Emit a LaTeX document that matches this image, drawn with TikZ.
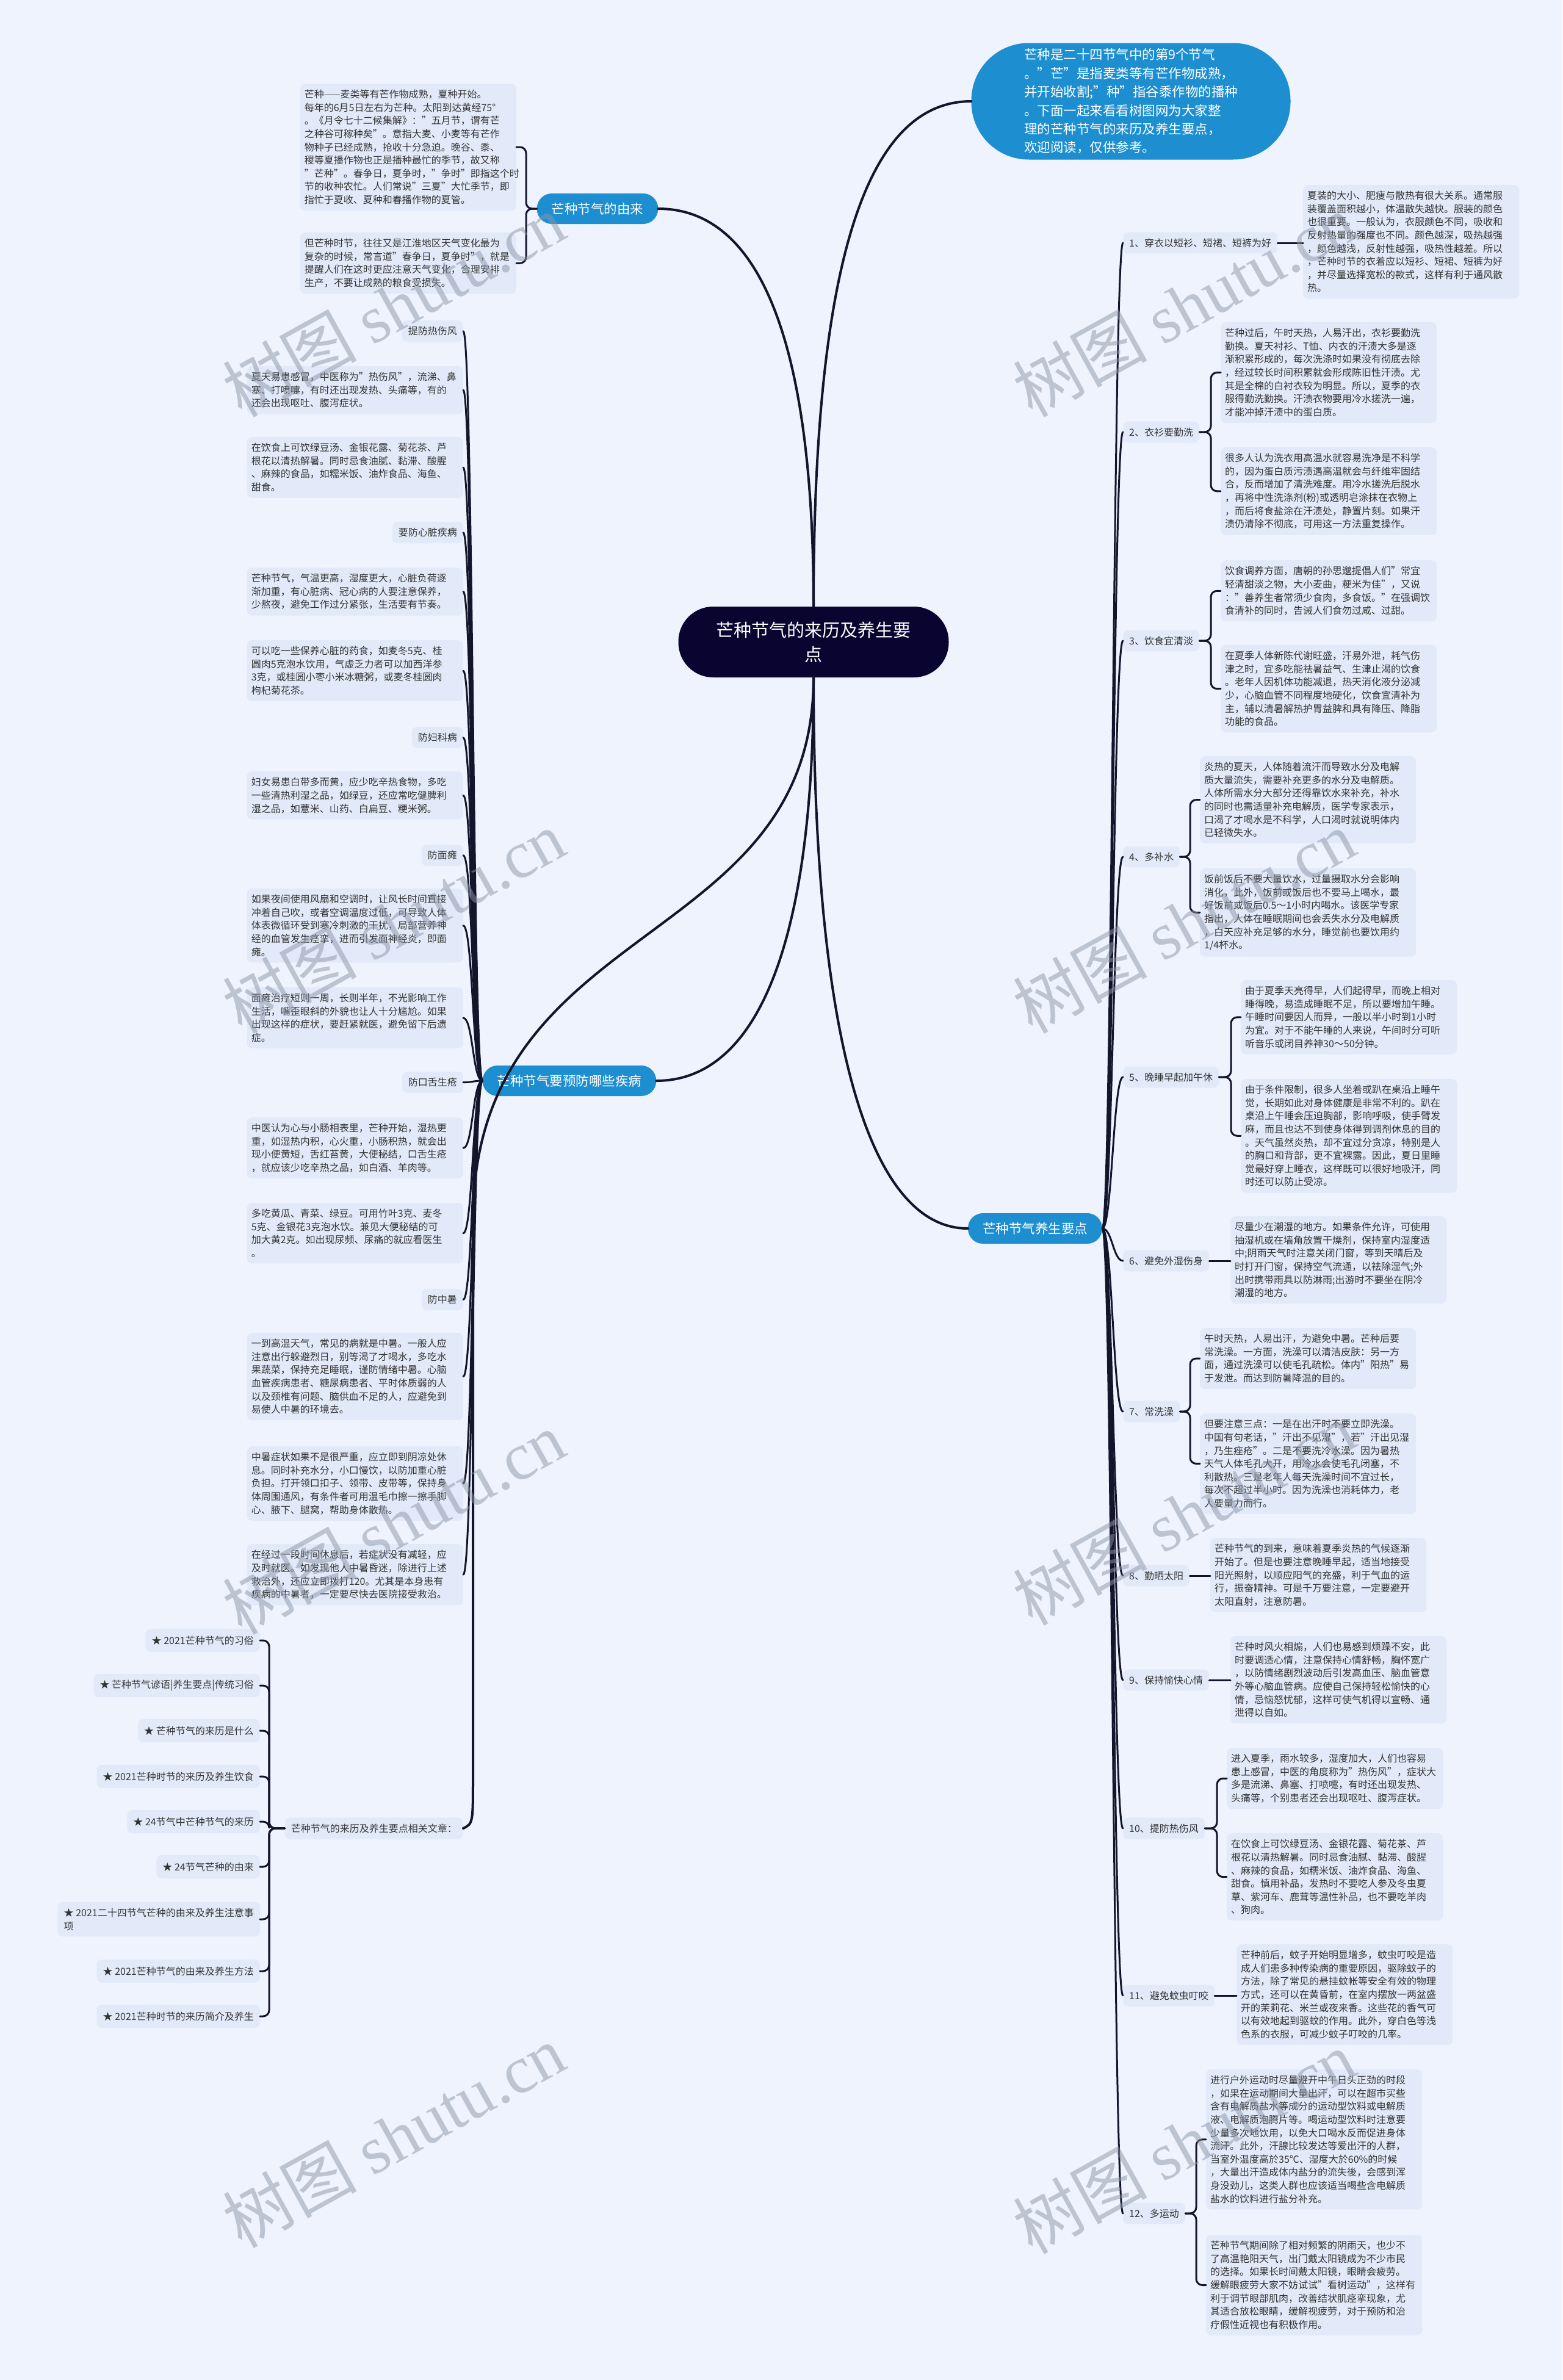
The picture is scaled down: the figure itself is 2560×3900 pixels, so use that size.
\documentclass[tikz,border=0pt]{standalone}
\usepackage{fontspec}
\setmainfont{Noto Sans CJK SC}
\newfontfamily\wmfont{Liberation Serif}
\usetikzlibrary{calc}

\definecolor{sfondoC}{HTML}{EEF3FD}
\definecolor{fogliaC}{HTML}{E2EAF9}
\definecolor{ramoC}{HTML}{1D8FD1}
\definecolor{centroC}{HTML}{0A0530}
\definecolor{testoC}{HTML}{333333}
\definecolor{lineaC}{HTML}{14142B}
\definecolor{filigC}{HTML}{8C96A8}

\begin{document}
\begin{tikzpicture}[x=1pt, y=-1pt, line cap=round, line join=round,
	font=\fontsize{16}{21.6}\selectfont,
	foglia/.style = {fill=fogliaC, text=testoC, rounded corners=8pt,
		inner xsep=7pt, inner ysep=10pt, text width=340pt, align=left},
	voce/.style   = {fill=fogliaC, text=testoC, rounded corners=8pt,
		inner xsep=10pt, inner ysep=10pt},
	ramo/.style   = {fill=ramoC, text=white, font=\fontsize{21.5}{26}\selectfont,
		inner xsep=24pt, inner ysep=0pt, minimum height=50pt, rounded corners=24.5pt},
	tronco/.style = {draw=lineaC, line width=4pt},
	filo/.style   = {draw=lineaC, line width=3pt, rounded corners=10pt},
	filig/.style  = {text=filigC, text opacity=0.5, rotate=29,
		font=\fontsize{110}{110}\selectfont},
	]
	
	%% ── Fondo ────────────────────────────────────────────────────────────────
	\useasboundingbox(0,0)rectangle(2560,3900);
	\fill[sfondoC](0,0)rectangle(2560,3900);
	
	%% ── Colonne ──────────────────────────────────────────────────────────────
	\def\xO{846}    % bordo destro foglie "origine"
	\def\xM{759}    % bordo destro foglie "malattie"
	\def\xR{1840}   % bordo sinistro voci "salute"
	\def\xA{426}    % bordo destro articoli
	
	%% ── Nodo centrale e introduzione ─────────────────────────────────────────
	\node[fill=centroC, text=white, font=\fontsize{29}{40}\selectfont, align=center,
		minimum width=443pt, minimum height=116pt, rounded corners=57pt]
		(centro)at(1333,1052){芒种节气的来历及养生要\\点};
	\node[fill=ramoC, text=white, font=\fontsize{21.5}{30.4}\selectfont, align=left,
		minimum width=523pt, minimum height=191pt, rounded corners=94pt]
		(intro)at(1853,166){芒种是二十四节气中的第9个节气\\
		。"芒"是指麦类等有芒作物成熟，\\
		并开始收割;"种"指谷黍作物的播种\\
		。下面一起来看看树图网为大家整\\
		理的芒种节气的来历及养生要点，\\
		欢迎阅读，仅供参考。};
	
	%% ── Rami principali ──────────────────────────────────────────────────────
	\node[ramo](origine)at(979,342){芒种节气的由来};
	\node[ramo](malattie)at(933,1771){芒种节气要预防哪些疾病};
	\node[ramo](salute)at(1696,2013){芒种节气养生要点};
	\node[voce,anchor=east](articoli)at(759,2996){芒种节气的来历及养生要点相关文章：};
	
	%% ── Origine ──────────────────────────────────────────────────────────────
	\node[foglia,anchor=north east](o1)at(\xO,137){芒种——麦类等有芒作物成熟，夏种开始。\\
		每年的6月5日左右为芒种。太阳到达黄经75°\\
		。《月令七十二候集解》："五月节，谓有芒\\
		之种谷可稼种矣"。意指大麦、小麦等有芒作\\
		物种子已经成熟，抢收十分急迫。晚谷、黍、\\
		稷等夏播作物也正是播种最忙的季节，故又称\\
		"芒种"。春争日，夏争时，"争时"即指这个时\\
		节的收种农忙。人们常说"三夏"大忙季节，即\\
		指忙于夏收、夏种和春播作物的夏管。};
	\node[foglia,anchor=north east](o2)at(\xO,381){但芒种时节，往往又是江淮地区天气变化最为\\
		复杂的时候，常言道"春争日，夏争时"，就是\\
		提醒人们在这时更应注意天气变化，合理安排\\
		生产，不要让成熟的粮食受损失。};
	
	%% ── Malattie ─────────────────────────────────────────────────────────────
	\node[voce,anchor=north east](m1)at(\xM,525){提防热伤风};
	\node[foglia,anchor=north east](m2)at(\xM,600){夏天易患感冒，中医称为"热伤风"，流涕、鼻\\
		塞、打喷嚏，有时还出现发热、头痛等，有的\\
		还会出现呕吐、腹泻症状。};
	\node[foglia,anchor=north east](m3)at(\xM,716){在饮食上可饮绿豆汤、金银花露、菊花茶、芦\\
		根花以清热解暑。同时忌食油腻、黏滞、酸腥\\
		、麻辣的食品，如糯米饭、油炸食品、海鱼、\\
		甜食。};
	\node[voce,anchor=north east](m4)at(\xM,855){要防心脏疾病};
	\node[foglia,anchor=north east](m5)at(\xM,930){芒种节气，气温更高，湿度更大，心脏负荷逐\\
		渐加重，有心脏病、冠心病的人要注意保养，\\
		少熬夜，避免工作过分紧张，生活要有节奏。};
	\node[foglia,anchor=north east](m6)at(\xM,1049){可以吃一些保养心脏的药食，如麦冬5克、桂\\
		圆肉5克泡水饮用，气虚乏力者可以加西洋参\\
		3克，或桂圆小枣小米冰糖粥，或麦冬桂圆肉\\
		枸杞菊花茶。};
	\node[voce,anchor=north east](m7)at(\xM,1191){防妇科病};
	\node[foglia,anchor=north east](m8)at(\xM,1264){妇女易患白带多而黄，应少吃辛热食物，多吃\\
		一些清热利湿之品，如绿豆，还应常吃健脾利\\
		湿之品，如薏米、山药、白扁豆、粳米粥。};
	\node[voce,anchor=north east](m9)at(\xM,1384){防面瘫};
	\node[foglia,anchor=north east](m10)at(\xM,1456){如果夜间使用风扇和空调时，让风长时间直接\\
		冲着自己吹，或者空调温度过低，可导致人体\\
		体表微循环受到寒冷刺激的干扰，局部营养神\\
		经的血管发生痉挛，进而引发面神经炎，即面\\
		瘫。};
	\node[foglia,anchor=north east](m11)at(\xM,1618){面瘫治疗短则一周，长则半年，不光影响工作\\
		生活，嘴歪眼斜的外貌也让人十分尴尬。如果\\
		出现这样的症状，要赶紧就医，避免留下后遗\\
		症。};
	\node[voce,anchor=north east](m12)at(\xM,1756){防口舌生疮};
	\node[foglia,anchor=north east](m13)at(\xM,1831){中医认为心与小肠相表里，芒种开始，湿热更\\
		重，如湿热内积，心火重，小肠积热，就会出\\
		现小便黄短，舌红苔黄，大便秘结，口舌生疮\\
		，就应该少吃辛热之品，如白酒、羊肉等。};
	\node[foglia,anchor=north east](m14)at(\xM,1971){多吃黄瓜、青菜、绿豆。可用竹叶3克、麦冬\\
		5克、金银花3克泡水饮。兼见大便秘结的可\\
		加大黄2克。如出现尿频、尿痛的就应看医生\\
		。};
	\node[voce,anchor=north east](m15)at(\xM,2112){防中暑};
	\node[foglia,anchor=north east](m16)at(\xM,2184){一到高温天气，常见的病就是中暑。一般人应\\
		注意出行躲避烈日，别等渴了才喝水，多吃水\\
		果蔬菜，保持充足睡眠，谨防情绪中暑。心脑\\
		血管疾病患者、糖尿病患者、平时体质弱的人\\
		以及颈椎有问题、脑供血不足的人，应避免到\\
		易使人中暑的环境去。};
	\node[foglia,anchor=north east](m17)at(\xM,2370){中暑症状如果不是很严重，应立即到阴凉处休\\
		息。同时补充水分，小口慢饮，以防加重心脏\\
		负担。打开领口扣子、领带、皮带等，保持身\\
		体周围通风，有条件者可用温毛巾擦一擦手脚\\
		心、腋下、腿窝，帮助身体散热。};
	\node[foglia,anchor=north east](m18)at(\xM,2530){在经过一段时间休息后，若症状没有减轻，应\\
		及时就医。如发现他人中暑昏迷，除进行上述\\
		救治外，还应立即拨打120。尤其是本身患有\\
		疾病的中暑者，一定要尽快去医院接受救治。};
	
	%% ── Articoli correlati ───────────────────────────────────────────────────
	\node[voce,anchor=east,minimum height=38pt](a1)at(\xA,2688){★ 2021芒种节气的习俗};
	\node[voce,anchor=east,minimum height=38pt](a2)at(\xA,2762){★ 芒种节气谚语|养生要点|传统习俗};
	\node[voce,anchor=east,minimum height=38pt](a3)at(\xA,2836){★ 芒种节气的来历是什么};
	\node[voce,anchor=east,minimum height=38pt](a4)at(\xA,2911){★ 2021芒种时节的来历及养生饮食};
	\node[voce,anchor=east,minimum height=38pt](a5)at(\xA,2985){★ 24节气中芒种节气的来历};
	\node[voce,anchor=east,minimum height=38pt](a6)at(\xA,3059){★ 24节气芒种的由来};
	\node[voce,anchor=east,align=left](a7)at(\xA,3145){★ 2021二十四节气芒种的由来及养生注意事\\项};
	\node[voce,anchor=east,minimum height=38pt](a8)at(\xA,3230){★ 2021芒种节气的由来及养生方法};
	\node[voce,anchor=east,minimum height=38pt](a9)at(\xA,3304){★ 2021芒种时节的来历简介及养生};
	
	%% ── Salute: voci ─────────────────────────────────────────────────────────
	\node[voce,anchor=west](r1)at(\xR,398){1、穿衣以短衫、短裙、短裤为好};
	\node[voce,anchor=west](r2)at(\xR,708){2、衣衫要勤洗};
	\node[voce,anchor=west](r3)at(\xR,1050){3、饮食宜清淡};
	\node[voce,anchor=west](r4)at(\xR,1404){4、多补水};
	\node[voce,anchor=west](r5)at(\xR,1765){5、晚睡早起加午休};
	\node[voce,anchor=west](r6)at(\xR,2066){6、避免外湿伤身};
	\node[voce,anchor=west](r7)at(\xR,2313){7、常洗澡};
	\node[voce,anchor=west](r8)at(\xR,2582){8、勤晒太阳};
	\node[voce,anchor=west](r9)at(\xR,2753){9、保持愉快心情};
	\node[voce,anchor=west](r10)at(\xR,2996){10、提防热伤风};
	\node[voce,anchor=west](r11)at(\xR,3270){11、避免蚊虫叮咬};
	\node[voce,anchor=west](r12)at(\xR,3627){12、多运动};
	
	%% ── Salute: foglie ───────────────────────────────────────────────────────
	\node[foglia,anchor=north west](fA1)at(2135,303){夏装的大小、肥瘦与散热有很大关系。通常服\\
		装覆盖面积越小，体温散失越快。服装的颜色\\
		也很重要。一般认为，衣服颜色不同，吸收和\\
		反射热量的强度也不同。颜色越深，吸热越强\\
		，颜色越浅，反射性越强，吸热性越差。所以\\
		，芒种时节的衣着应以短衫、短裙、短裤为好\\
		，并尽量选择宽松的款式，这样有利于通风散\\
		热。};
	\node[foglia,anchor=north west](fA2)at(2000,528){芒种过后，午时天热，人易汗出，衣衫要勤洗\\
		勤换。夏天衬衫、T恤、内衣的汗渍大多是逐\\
		渐积累形成的，每次洗涤时如果没有彻底去除\\
		，经过较长时间积累就会形成陈旧性汗渍。尤\\
		其是全棉的白衬衣较为明显。所以，夏季的衣\\
		服得勤洗勤换。汗渍衣物要用冷水搓洗一遍，\\
		才能冲掉汗渍中的蛋白质。};
	\node[foglia,anchor=north west](fB2)at(2000,733){很多人认为洗衣用高温水就容易洗净是不科学\\
		的，因为蛋白质污渍遇高温就会与纤维牢固结\\
		合，反而增加了清洗难度。用冷水搓洗后脱水\\
		，再将中性洗涤剂(粉)或透明皂涂抹在衣物上\\
		，而后将食盐涂在汗渍处，静置片刻。如果汗\\
		渍仍清除不彻底，可用这一方法重复操作。};
	\node[foglia,anchor=north west](fA3)at(2000,918){饮食调养方面，唐朝的孙思邈提倡人们"常宜\\
		轻清甜淡之物，大小麦曲，粳米为佳"，又说\\
		："善养生者常须少食肉，多食饭。"在强调饮\\
		食清补的同时，告诫人们食勿过咸、过甜。};
	\node[foglia,anchor=north west](fB3)at(2000,1057){在夏季人体新陈代谢旺盛，汗易外泄，耗气伤\\
		津之时，宜多吃能祛暑益气、生津止渴的饮食\\
		。老年人因机体功能减退，热天消化液分泌减\\
		少，心脑血管不同程度地硬化，饮食宜清补为\\
		主，辅以清暑解热护胃益脾和具有降压、降脂\\
		功能的食品。};
	\node[foglia,anchor=north west](fA4)at(1966,1239){炎热的夏天，人体随着流汗而导致水分及电解\\
		质大量流失，需要补充更多的水分及电解质。\\
		人体所需水分大部分还得靠饮水来补充，补水\\
		的同时也需适量补充电解质，医学专家表示，\\
		口渴了才喝水是不科学，人口渴时就说明体内\\
		已轻微失水。};
	\node[foglia,anchor=north west](fB4)at(1966,1423){饭前饭后不要大量饮水，过量摄取水分会影响\\
		消化，此外，饭前或饭后也不要马上喝水，最\\
		好饭前或饭后0.5～1小时内喝水。该医学专家\\
		指出，人体在睡眠期间也会丢失水分及电解质\\
		，白天应补充足够的水分，睡觉前也要饮用约\\
		1/4杯水。};
	\node[foglia,anchor=north west](fA5)at(2033,1606){由于夏季天亮得早，人们起得早，而晚上相对\\
		睡得晚，易造成睡眠不足，所以要增加午睡。\\
		午睡时间要因人而异，一般以半小时到1小时\\
		为宜。对于不能午睡的人来说，午间时分可听\\
		听音乐或闭目养神30～50分钟。};
	\node[foglia,anchor=north west](fB5)at(2033,1768){由于条件限制，很多人坐着或趴在桌沿上睡午\\
		觉，长期如此对身体健康是非常不利的。趴在\\
		桌沿上午睡会压迫胸部，影响呼吸，使手臂发\\
		麻，而且也达不到使身体得到调剂休息的目的\\
		。天气虽然炎热，却不宜过分贪凉，特别是人\\
		的胸口和背部，更不宜裸露。因此，夏日里睡\\
		觉最好穿上睡衣，这样既可以很好地吸汗，同\\
		时还可以防止受凉。};
	\node[foglia,anchor=north west](fA6)at(2016,1993){尽量少在潮湿的地方。如果条件允许，可使用\\
		抽湿机或在墙角放置干燥剂，保持室内湿度适\\
		中;阴雨天气时注意关闭门窗，等到天晴后及\\
		时打开门窗，保持空气流通，以祛除湿气;外\\
		出时携带雨具以防淋雨;出游时不要坐在阴冷\\
		潮湿的地方。};
	\node[foglia,anchor=north west](fA7)at(1966,2176){午时天热，人易出汗，为避免中暑。芒种后要\\
		常洗澡。一方面，洗澡可以清洁皮肤：另一方\\
		面，通过洗澡可以使毛孔疏松。体内"阳热"易\\
		于发泄。而达到防暑降温的目的。};
	\node[foglia,anchor=north west](fB7)at(1966,2316){但要注意三点：一是在出汗时不要立即洗澡。\\
		中国有句老话，"汗出不见湿"，若"汗出见湿\\
		，乃生痤疮"。二是不要洗冷水澡。因为暑热\\
		天气人体毛孔大开，用冷水会使毛孔闭塞，不\\
		利散热。三是老年人每天洗澡时间不宜过长，\\
		每次不超过半小时。因为洗澡也消耗体力，老\\
		人要量力而行。};
	\node[foglia,anchor=north west](fA8)at(1983,2520){芒种节气的到来，意味着夏季炎热的气候逐渐\\
		开始了。但是也要注意晚睡早起，适当地接受\\
		阳光照射，以顺应阳气的充盛，利于气血的运\\
		行，振奋精神。可是千万要注意，一定要避开\\
		太阳直射，注意防暑。};
	\node[foglia,anchor=north west](fA9)at(2016,2681){芒种时风火相煽，人们也易感到烦躁不安，此\\
		时要调适心情，注意保持心情舒畅，胸怀宽广\\
		，以防情绪剧烈波动后引发高血压、脑血管意\\
		外等心脑血管病。应使自己保持轻松愉快的心\\
		情，忌恼怒忧郁，这样可使气机得以宣畅、通\\
		泄得以自如。};
	\node[foglia,anchor=north west](fA10)at(2010,2864){进入夏季，雨水较多，湿度加大，人们也容易\\
		患上感冒，中医的角度称为"热伤风"，症状大\\
		多是流涕、鼻塞、打喷嚏，有时还出现发热、\\
		头痛等，个别患者还会出现呕吐、腹泻症状。};
	\node[foglia,anchor=north west](fB10)at(2010,3004){在饮食上可饮绿豆汤、金银花露、菊花茶、芦\\
		根花以清热解暑。同时忌食油腻、黏滞、酸腥\\
		、麻辣的食品，如糯米饭、油炸食品、海鱼、\\
		甜食。慎用补品，发热时不要吃人参及冬虫夏\\
		草、紫河车、鹿茸等温性补品，也不要吃羊肉\\
		、狗肉。};
	\node[foglia,anchor=north west](fA11)at(2026,3186){芒种前后，蚊子开始明显增多，蚊虫叮咬是造\\
		成人们患多种传染病的重要原因，驱除蚊子的\\
		方法，除了常见的悬挂蚊帐等安全有效的物理\\
		方式，还可以在黄昏前，在室内摆放一两盆盛\\
		开的茉莉花、米兰或夜来香。这些花的香气可\\
		以有效地起到驱蚊的作用。此外，穿白色等浅\\
		色系的衣服，可减少蚊子叮咬的几率。};
	\node[foglia,anchor=north west](fA12)at(1976,3391){进行户外运动时尽量避开中午日头正劲的时段\\
		，如果在运动期间大量出汗，可以在超市买些\\
		含有电解质盐水等成分的运动型饮料或电解质\\
		液、电解质泡腾片等。喝运动型饮料时注意要\\
		少量多次地饮用，以免大口喝水反而促进身体\\
		流汗。此外，汗腺比较发达等爱出汗的人群，\\
		当室外温度高於35℃、湿度大於60\%的时候\\
		，大量出汗造成体内盐分的流失後，会感到浑\\
		身没劲儿，这类人群也应该适当喝些含电解质\\
		盐水的饮料进行盐分补充。};
	\node[foglia,anchor=north west](fB12)at(1976,3662){芒种节气期间除了相对频繁的阴雨天，也少不\\
		了高温艳阳天气，出门戴太阳镜成为不少市民\\
		的选择。如果长时间戴太阳镜，眼睛会疲劳。\\
		缓解眼疲劳大家不妨试试"看树运动"，这样有\\
		利于调节眼部肌肉，改善结状肌痉挛现象，尤\\
		其适合放松眼睛，缓解视疲劳，对于预防和治\\
		疗假性近视也有积极作用。};
	
	%% ── Collegamenti dal centro ──────────────────────────────────────────────
	\draw[tronco](centro.north)..controls +(0,-600) and +(-160,0)..(intro.west);
	\draw[tronco](centro.north)..controls +(0,-450) and +(160,0)..(origine.east);
	\draw[tronco](centro.south)..controls +(0,450) and +(160,0)..(malattie.east);
	\draw[tronco](centro.south)..controls +(0,600) and +(-160,0)..(salute.west);
	\draw[tronco](centro.south)..controls +(0,450) and +(0,-500)..(775,2000)
		--(775,2910)..controls(775,2988)..(articoli.east);
	
	%% ── Collegamenti dei rami ────────────────────────────────────────────────
	\foreach \k in {1,2}
	\draw[filo](origine.west)-|([xshift=16pt]o\k.east)--(o\k.east);
	\foreach \k in {1,...,18}
	\draw[filo](malattie.west)..controls +(-16,0) and +(16,0)..(m\k.east);
	\foreach \k in {1,...,9}
	\draw[filo](articoli.west)-|([xshift=15pt]a\k.east)--(a\k.east);
	\foreach \k in {1,...,12}
	\draw[filo](salute.east)..controls +(16,0) and +(-16,0)..(r\k.west);
	\foreach \k in {1,6,8,9,11}
	\draw[filo](r\k.east)--(r\k.east-|fA\k.west);
	\foreach \k in {2,3,4,5,7,10,12}{
		\draw[filo](r\k.east)-|([xshift=-16pt]fA\k.west)--(fA\k.west);
		\draw[filo](r\k.east)-|([xshift=-16pt]fB\k.west)--(fB\k.west);}
	
	%% ── Filigrana ────────────────────────────────────────────────────────────
	\node[filig](w1)at(645,500){树图 {\wmfont shutu.cn}};
	\node[filig](w2)at(1940,500){树图 {\wmfont shutu.cn}};
	\node[filig](w3)at(645,1510){树图 {\wmfont shutu.cn}};
	\node[filig](w4)at(1940,1510){树图 {\wmfont shutu.cn}};
	\node[filig](w5)at(645,2495){树图 {\wmfont shutu.cn}};
	\node[filig](w6)at(1940,2480){树图 {\wmfont shutu.cn}};
	\node[filig](w7)at(645,3500){树图 {\wmfont shutu.cn}};
	\node[filig](w8)at(1940,3510){树图 {\wmfont shutu.cn}};
	
\end{tikzpicture}
\end{document}
